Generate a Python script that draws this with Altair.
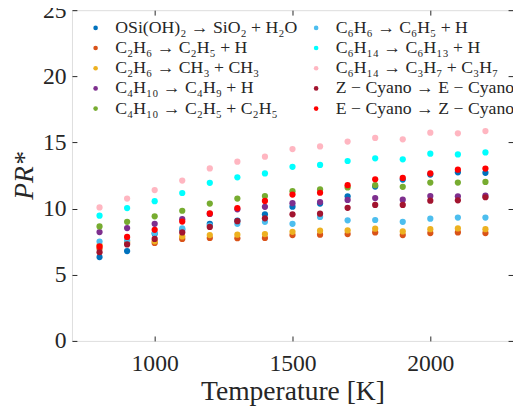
import altair as alt
import pandas as pd

temps = [800, 900, 1000, 1100, 1200, 1300, 1400, 1500, 1600, 1700, 1800, 1900, 2000, 2100, 2200]

names = [
    "OSi(OH)₂ → SiO₂ + H₂O",
    "C₂H₆ → C₂H₅ + H",
    "C₂H₆ → CH₃ + CH₃",
    "C₄H₁₀ → C₄H₉ + H",
    "C₄H₁₀ → C₂H₅ + C₂H₅",
    "C₆H₆ → C₆H₅ + H",
    "C₆H₁₄ → C₆H₁₃ + H",
    "C₆H₁₄ → C₃H₇ + C₃H₇",
    "Z − Cyano → E − Cyano",
    "E − Cyano → Z − Cyano",
]
colors = ["#0072BD", "#D95319", "#EDB120", "#7E2F8E", "#77AC30",
          "#4DBEEE", "#00FFFF", "#FFB6C1", "#A2142F", "#FF0000"]

s_osi = [6.34, 6.79, 8.10, 8.40, 8.85, 9.10, 9.57, 10.15, 10.38, 10.93, 11.67, 12.20, 12.57, 12.74, 12.71]
s_c2h6_h = [6.99, 7.40, 7.41, 7.71, 7.78, 7.76, 7.78, 8.00, 8.03, 8.08, 8.20, 8.00, 8.15, 8.20, 8.15]
s_c2h6_ch3 = [7.24, 7.50, 7.53, 7.90, 8.00, 8.03, 8.08, 8.25, 8.33, 8.35, 8.48, 8.28, 8.45, 8.50, 8.45]
s_c4h10_h = [8.23, 8.53, 8.85, 9.20, 9.60, 9.95, 10.14, 10.41, 10.50, 10.66, 10.80, 10.68, 10.95, 10.93, 10.98]
s_c4h10_c2 = [8.65, 9.00, 9.42, 9.84, 10.38, 10.76, 10.95, 11.32, 11.45, 11.60, 11.77, 11.65, 11.97, 11.97, 12.02]
s_c6h6 = [7.51, 7.60, 8.15, 8.50, 8.72, 8.85, 9.00, 8.85, 9.37, 9.12, 9.14, 9.00, 9.24, 9.32, 9.32]
s_c6h14_h = [9.47, 10.04, 10.56, 11.18, 11.95, 12.37, 12.66, 13.16, 13.30, 13.60, 13.80, 13.73, 14.15, 14.10, 14.25]
s_c6h14_c3 = [10.09, 10.76, 11.40, 12.12, 13.04, 13.55, 13.93, 14.50, 14.70, 15.07, 15.34, 15.24, 15.74, 15.69, 15.86]
s_z_e = [6.71, 7.29, 7.71, 8.20, 8.62, 9.05, 9.27, 9.57, 9.62, 10.06, 10.28, 10.28, 10.60, 10.63, 10.86]
s_e_z = [7.14, 7.86, 8.40, 9.02, 9.64, 10.04, 10.58, 11.06, 11.20, 11.77, 12.22, 12.32, 12.66, 12.94, 13.03]

series = [s_osi, s_c2h6_h, s_c2h6_ch3, s_c4h10_h, s_c4h10_c2,
          s_c6h6, s_c6h14_h, s_c6h14_c3, s_z_e, s_e_z]

rows = []
for i, (n, vals) in enumerate(zip(names, series)):
    for t, v in zip(temps, vals):
        rows.append({"T": t, "PR": v, "reaction": n, "order": i})
df = pd.DataFrame(rows)

FONT = "Liberation Serif"
AX = "#262626"

xs = alt.Scale(domain=[700, 2300], nice=False, zero=False)
ys = alt.Scale(domain=[0, 25], nice=False)

points = alt.Chart(df).mark_circle(size=40, opacity=1).encode(
    x=alt.X("T:Q", scale=xs, title="Temperature [K]",
            axis=alt.Axis(values=[1000, 1500, 2000], format="d", grid=False, domain=False,
                          offset=-5, tickSize=5, tickColor=AX, labelPadding=11,
                          labelFont=FONT, labelFontSize=24, labelColor=AX,
                          titleFont=FONT, titleFontSize=28, titleFontWeight="normal",
                          titleColor=AX, titleBaseline="alphabetic", titleY=65)),
    y=alt.Y("PR:Q", scale=ys, title="PR*",
            axis=alt.Axis(values=[0, 5, 10, 15, 20, 25], grid=False, domain=False,
                          offset=-5, tickSize=5, tickColor=AX, labelPadding=6,
                          labelFont=FONT, labelFontSize=24, labelColor=AX,
                          titleFont=FONT, titleFontSize=28, titleFontWeight="normal",
                          titleFontStyle="italic", titleColor=AX,
                          titleBaseline="alphabetic", titleX=-45, titleY=168)),
    color=alt.Color("reaction:N", scale=alt.Scale(domain=names, range=colors),
                    legend=alt.Legend(title=None, orient="none", legendX=15, legendY=9,
                                      columns=2, symbolType="circle", symbolSize=22,
                                      labelFont=FONT, labelFontSize=18, labelColor=AX,
                                      labelLimit=0, labelOffset=11, rowPadding=2.5,
                                      columnPadding=10, symbolStrokeWidth=0)),
    order=alt.Order("order:Q"),
)

frame = alt.Chart(df).mark_circle(opacity=0).encode(
    x=alt.X("T:Q", scale=xs,
            axis=alt.Axis(orient="top", values=[1000, 1500, 2000], labels=False, grid=False,
                          domain=False, offset=-5, tickSize=5, tickColor=AX, title=None)),
    y=alt.Y("PR:Q", scale=ys,
            axis=alt.Axis(orient="right", values=[0, 5, 10, 15, 20, 25], labels=False, grid=False,
                          domain=False, offset=-5, tickSize=5, tickColor=AX, title=None)),
)

chart = alt.layer(points, frame).resolve_axis(x="independent", y="independent").properties(
    width=448, height=336,
    autosize=alt.AutoSizeParams(type="none"),
    padding={"left": 65, "top": -1, "right": 0, "bottom": 69},
).configure_view(stroke=AX, strokeWidth=1).configure(background="white")

chart.save("out.html", embed_options={"renderer": "svg", "actions": False})
